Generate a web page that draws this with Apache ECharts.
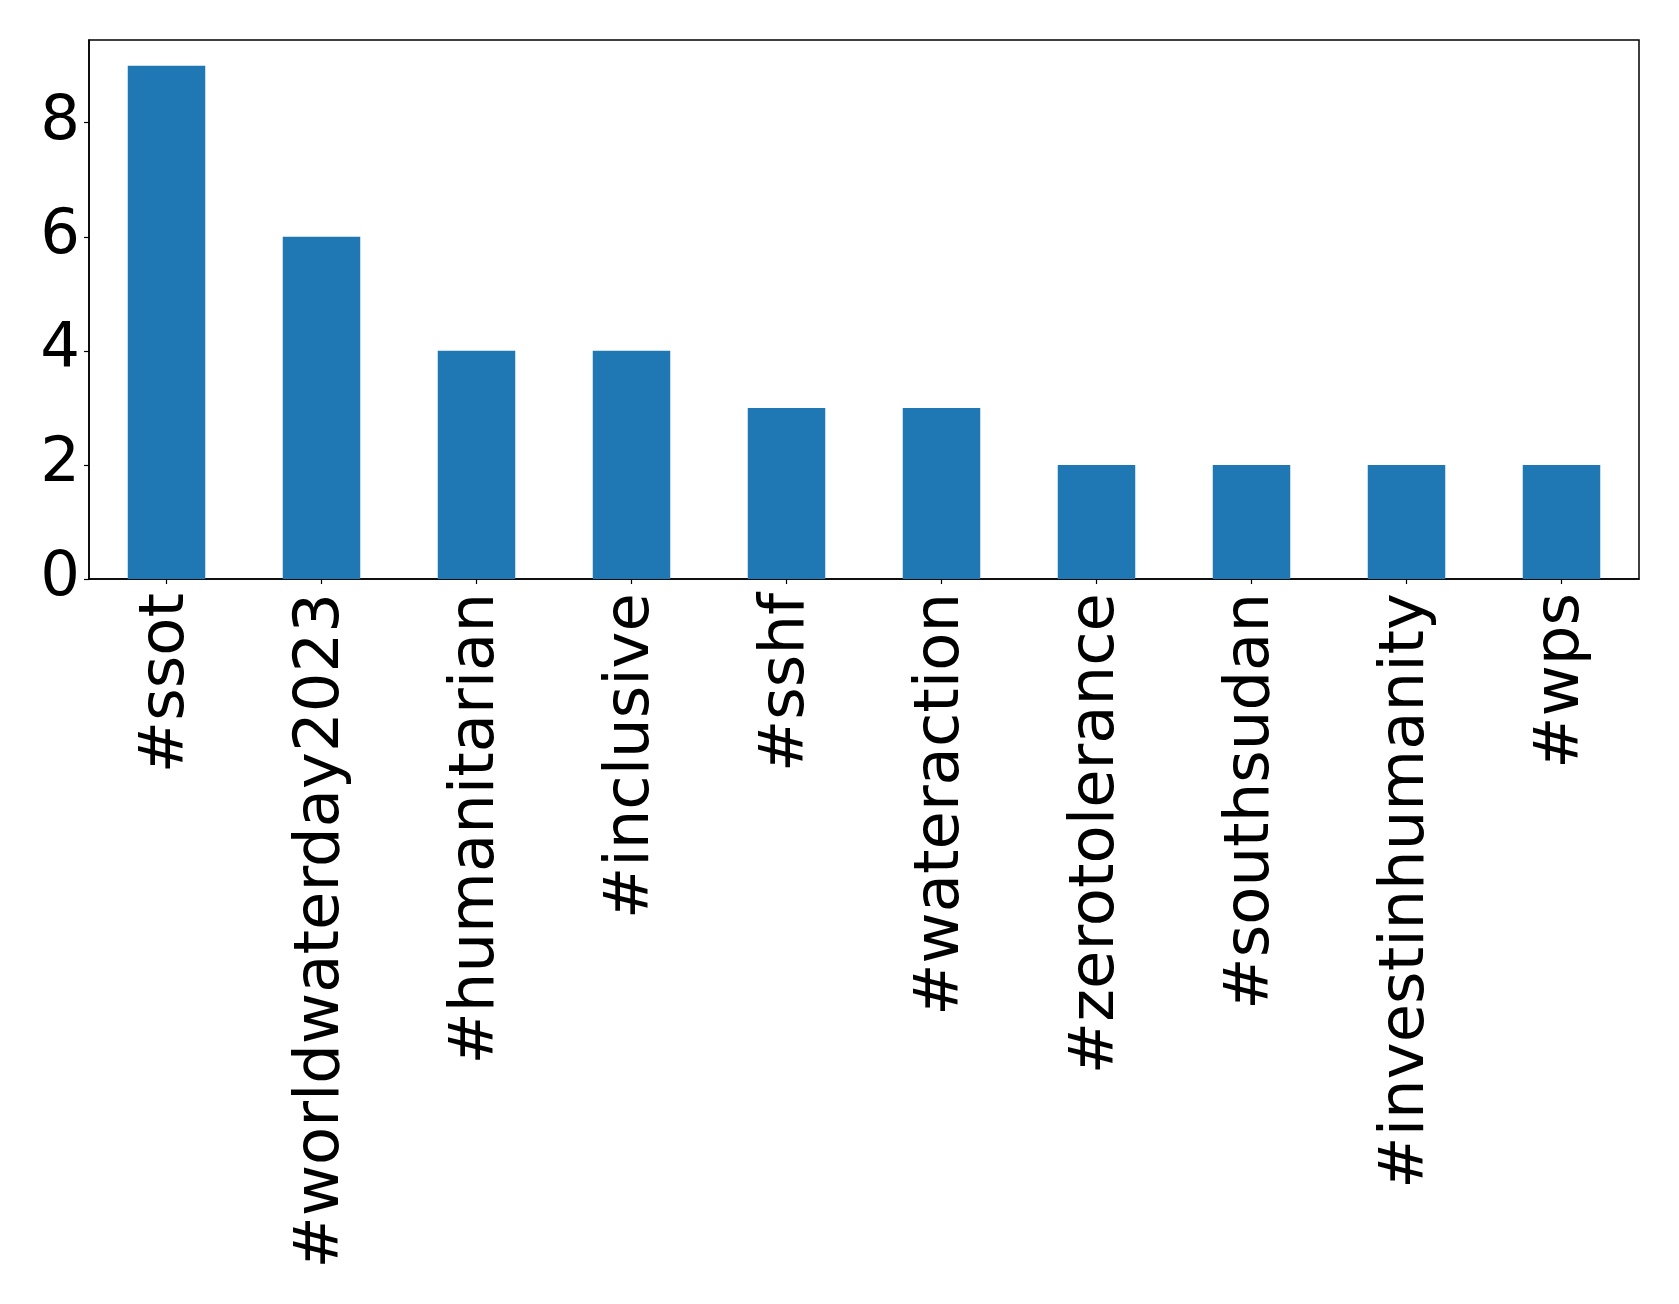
<!DOCTYPE html>
<html>
<head>
<meta charset="utf-8">
<script src="https://cdn.jsdelivr.net/npm/echarts@6/dist/echarts.min.js"></script>
<style>
html,body{margin:0;padding:0;background:#fff;}
#chart{width:1679px;height:1304px;}
</style>
</head>
<body>
<div id="chart"></div>
<script>
const categories = ['#ssot', '#worldwaterday2023', '#humanitarian', '#inclusive', '#sshf', '#wateraction', '#zerotolerance', '#southsudan', '#investinhumanity', '#wps'];
const counts = [9, 6, 4, 4, 3, 3, 2, 2, 2, 2];
const yTicks = [0, 2, 4, 6, 8];

const chart = echarts.init(document.getElementById('chart'), null, {renderer: 'canvas'});
const font = 'DejaVu Sans';
chart.setOption({
  animation: false,
  backgroundColor: '#ffffff',
  grid: {
    left: 89, top: 40, right: 40, bottom: 725,
    show: true, borderColor: '#000', borderWidth: 1.5, backgroundColor: 'transparent',
    containLabel: false
  },
  xAxis: {
    type: 'category',
    data: categories,
    boundaryGap: true,
    axisLine: {show: true, lineStyle: {color: '#000', width: 1.5}},
    axisTick: {show: true, alignWithLabel: true, length: 5, lineStyle: {color: '#000', width: 1.2}},
    axisLabel: {
      rotate: 90, interval: 0, color: '#000', fontFamily: font, fontSize: 62.5, margin: 14,
      padding: [10, 0, 0, 0]
    },
    splitLine: {show: false}
  },
  yAxis: {
    type: 'value',
    min: 0, max: 9.45, interval: 2,
    axisLine: {show: true, lineStyle: {color: '#000', width: 1.5}},
    axisTick: {show: true, length: 5, lineStyle: {color: '#000', width: 1.2}},
    axisLabel: {
      color: '#000', fontFamily: font, fontSize: 62.5, margin: 9,
      showMaxLabel: false,
      formatter: function (v) { return yTicks.indexOf(v) >= 0 ? String(v) : ''; }
    },
    splitLine: {show: false}
  },
  series: [{
    type: 'bar',
    data: counts,
    barWidth: '50%',
    itemStyle: {color: '#1f77b4'}
  }]
});
</script>
</body>
</html>
